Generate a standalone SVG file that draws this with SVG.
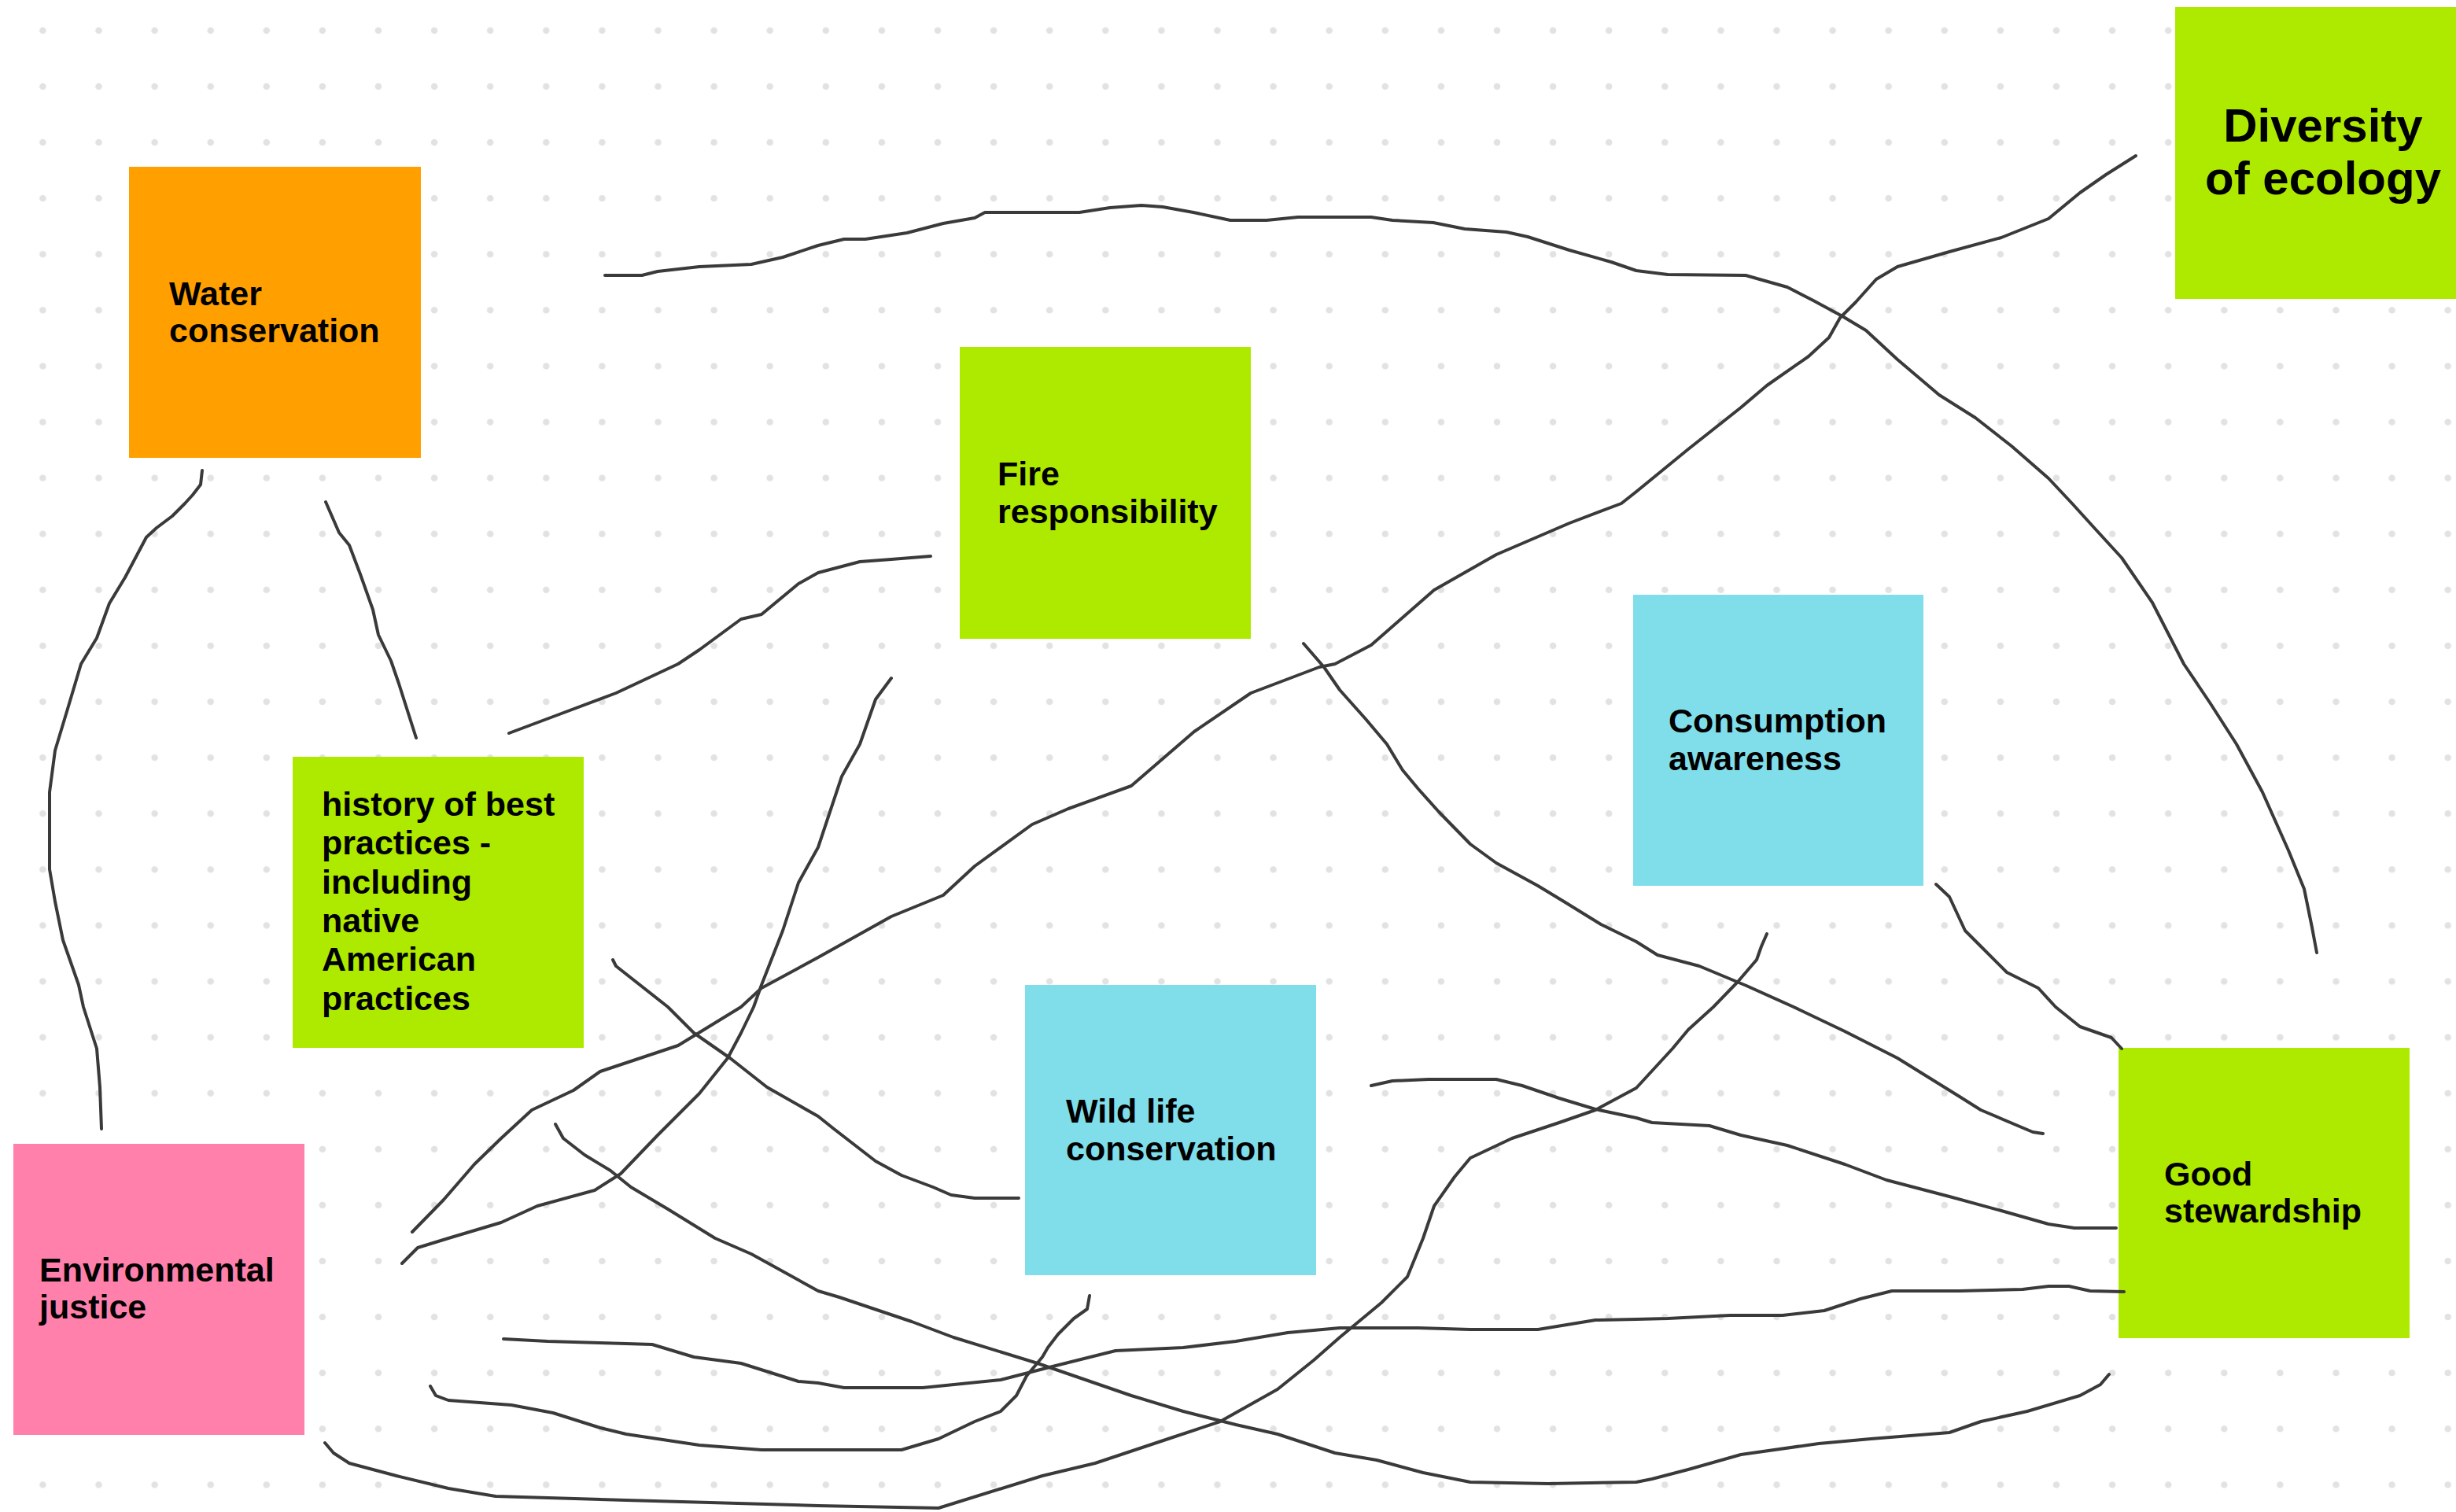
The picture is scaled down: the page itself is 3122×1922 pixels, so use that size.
<svg xmlns="http://www.w3.org/2000/svg" width="3122" height="1922" viewBox="0 0 3122 1922">
<style>
.note text{font-family:"Liberation Sans",Arial,sans-serif;font-weight:bold;font-size:43px;fill:#000}
.big text{font-size:60px}
.conn polyline{fill:none;stroke:#3a3a3a;stroke-width:4;stroke-linecap:round;stroke-linejoin:round}
.green{fill:#AEEA00}.cyan{fill:#80DEEA}.orange{fill:#FFA000}.pink{fill:#FF80AB}
</style>
<defs>
<pattern id="dots" patternUnits="userSpaceOnUse" x="18.85" y="3.25" width="71.1" height="71.1">
<circle cx="35.55" cy="35.55" r="4.3" fill="#e2e2e2"/>
</pattern>
</defs>
<rect width="3122" height="1922" fill="#fff"/>
<rect width="3122" height="1922" fill="url(#dots)"/>

<g id="water" class="note"><rect class="orange" x="164" y="212" width="371" height="370"/><text x="215" y="388">Water</text><text x="215" y="435">conservation</text></g>
<g id="fire" class="note"><rect class="green" x="1220" y="441" width="370" height="371"/><text x="1268" y="617">Fire</text><text x="1268" y="665">responsibility</text></g>
<g id="diversity" class="note big"><rect class="green" x="2765" y="9" width="371" height="371"/><text x="2953" y="180" text-anchor="middle">Diversity</text><text x="2953" y="247" text-anchor="middle">of ecology</text></g>
<g id="consumption" class="note"><rect class="cyan" x="2076" y="756" width="369" height="370"/><text x="2121" y="931">Consumption</text><text x="2121" y="979">awareness</text></g>
<g id="history" class="note"><rect class="green" x="372" y="962" width="370" height="370"/><text x="409" y="1037">history of best</text><text x="409" y="1086">practices -</text><text x="409" y="1136">including</text><text x="409" y="1185">native</text><text x="409" y="1234">American</text><text x="409" y="1284">practices</text></g>
<g id="wildlife" class="note"><rect class="cyan" x="1303" y="1252" width="370" height="369"/><text x="1355" y="1427">Wild life</text><text x="1355" y="1475">conservation</text></g>
<g id="envjustice" class="note"><rect class="pink" x="17" y="1454" width="370" height="370"/><text x="50" y="1629">Environmental</text><text x="50" y="1676">justice</text></g>
<g id="stewardship" class="note"><rect class="green" x="2693" y="1332" width="370" height="369"/><text x="2751" y="1507">Good</text><text x="2751" y="1554">stewardship</text></g>

<g id="connectors" class="conn">
<polyline points="769,350 816,350 836,345 889,339 955,336 995,327 1040,312 1073,304 1100,304 1153,296 1199,284 1239,277 1252,270 1372,270 1411,264 1451,261 1478,263 1517,270 1564,280 1610,280 1650,276 1743,276 1770,280 1822,283 1862,291 1915,295 1942,301 1995,318 2048,333 2080,344 2120,349 2219,350 2272,365 2305,382 2342,402 2372,420 2412,457 2465,502 2511,531 2557,567 2604,608 2634,640 2664,673 2697,709 2736,766 2776,844 2809,893 2843,946 2876,1007 2909,1081 2929,1130 2939,1179 2945,1211"/>
<polyline points="2715,198 2677,222 2644,245 2604,278 2544,302 2478,320 2412,339 2385,355 2359,384 2339,404 2325,429 2299,453 2246,490 2213,518 2146,571 2080,625 2061,640 1995,665 1902,705 1823,750 1743,820 1697,844 1677,848 1590,881 1518,930 1438,999 1358,1028 1312,1048 1239,1101 1199,1138 1133,1165 1040,1217 968,1256 942,1280 862,1329 763,1362 729,1386 676,1411 637,1447 603,1480 564,1525 524,1566"/>
<polyline points="647,932 703,911 783,881 862,844 889,826 942,787 968,781 1015,742 1040,728 1093,714 1133,711 1183,707"/>
<polyline points="414,638 431,677 444,693 458,730 474,775 481,807 497,840 507,869 529,938"/>
<polyline points="257,598 255,616 245,629 235,640 219,656 199,671 186,683 159,734 139,767 123,811 103,844 86,901 70,954 63,1007 63,1105 70,1146 80,1195 100,1252 106,1280 123,1333 127,1382 129,1435"/>
<polyline points="1133,862 1113,889 1093,946 1070,987 1040,1077 1015,1122 995,1183 968,1252 958,1280 942,1313 925,1345 889,1390 836,1443 789,1492 756,1513 683,1533 637,1554 570,1574 531,1586 511,1606"/>
<polyline points="779,1220 783,1228 849,1280 882,1313 928,1345 975,1382 1040,1419 1060,1435 1113,1476 1146,1494 1186,1509 1209,1519 1239,1523 1295,1523"/>
<polyline points="706,1429 716,1447 743,1468 776,1488 802,1509 849,1537 909,1574 955,1594 1040,1641 1067,1649 1159,1680 1212,1700 1319,1733 1438,1774 1504,1794 1571,1811 1624,1823 1697,1847 1750,1856 1809,1872 1869,1884 1968,1886 2080,1884 2100,1880 2146,1868 2213,1849 2312,1835 2378,1829 2478,1821 2518,1807 2577,1794 2644,1774 2670,1760 2681,1747"/>
<polyline points="1657,818 1683,848 1703,877 1736,914 1763,946 1783,979 1803,1003 1829,1032 1869,1073 1902,1097 1955,1126 1988,1146 2035,1175 2080,1197 2107,1214 2160,1228 2220,1253 2280,1280 2345,1311 2412,1345 2491,1394 2518,1411 2584,1439 2597,1441"/>
<polyline points="2461,1124 2478,1140 2498,1183 2518,1203 2551,1236 2591,1256 2613,1280 2644,1305 2684,1319 2697,1333"/>
<polyline points="2246,1187 2239,1203 2233,1220 2209,1248 2178,1280 2146,1309 2126,1333 2080,1383 2028,1411 1982,1427 1922,1447 1869,1472 1849,1496 1823,1533 1809,1574 1789,1623 1756,1656 1703,1700 1670,1729 1624,1766 1551,1807 1491,1827 1392,1860 1325,1876 1193,1917 1040,1914 796,1907 630,1902 570,1892 504,1876 444,1860 424,1847 413,1834"/>
<polyline points="640,1702 696,1705 763,1707 829,1709 882,1725 942,1733 1015,1756 1040,1758 1073,1764 1173,1764 1272,1754 1338,1737 1418,1717 1504,1713 1571,1705 1637,1694 1703,1688 1803,1688 1869,1690 1955,1690 2028,1678 2080,1677 2120,1676 2199,1672 2266,1672 2319,1666 2365,1651 2405,1641 2491,1641 2571,1639 2604,1635 2630,1635 2657,1641 2700,1642"/>
<polyline points="547,1762 554,1774 570,1780 650,1786 703,1796 763,1815 796,1823 889,1837 968,1843 1146,1843 1193,1829 1239,1807 1272,1794 1292,1774 1305,1749 1325,1725 1332,1713 1345,1696 1365,1676 1382,1664 1385,1647"/>
<polyline points="1743,1380 1770,1374 1816,1372 1902,1372 1935,1380 1982,1396 2028,1410 2080,1421 2100,1427 2173,1431 2213,1443 2272,1456 2345,1480 2398,1500 2478,1521 2544,1539 2604,1556 2637,1561 2690,1561"/>
</g>
</svg>
